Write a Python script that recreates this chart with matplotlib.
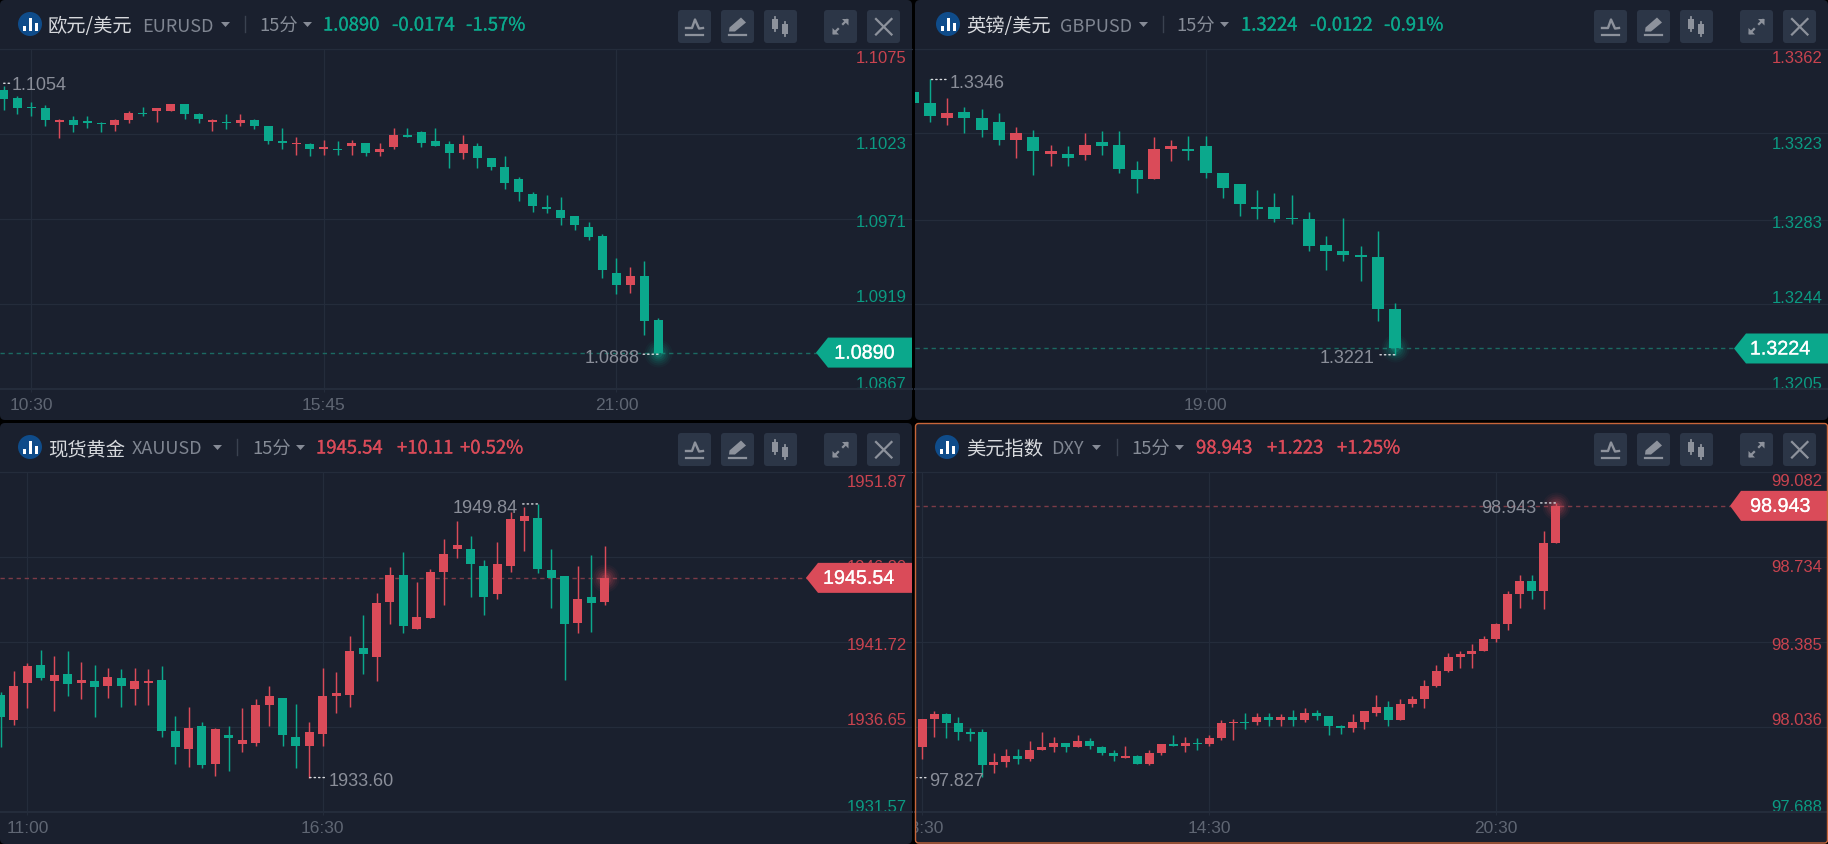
import matplotlib
matplotlib.use("Agg")
import matplotlib.pyplot as plt
import matplotlib.patheffects as pe
from matplotlib.patches import FancyBboxPatch, Polygon, Circle, Rectangle
from matplotlib.transforms import Bbox, TransformedBbox, IdentityTransform

# ---------- data (O/H/L/C) ----------
eur_open = [1.10501,1.10450,1.10397,1.10389,1.10303,1.10315,1.10307,1.10297,1.10285,1.10315,1.10358,1.10373,1.10371,1.10413,1.10352,1.10305,1.10305,1.10297,1.10315,1.10279,1.10187,1.10169,1.10169,1.10138,1.10138,1.10156,1.10175,1.10120,1.10150,1.10224,1.10242,1.10187,1.10169,1.10114,1.10156,1.10083,1.10028,1.09954,1.09863,1.09783,1.09765,1.09728,1.09661,1.09606,1.09379,1.09306,1.09361,1.09091]
eur_high = [1.10522,1.10462,1.10426,1.10407,1.10320,1.10340,1.10340,1.10301,1.10320,1.10371,1.10395,1.10389,1.10413,1.10413,1.10358,1.10322,1.10352,1.10352,1.10322,1.10279,1.10267,1.10211,1.10175,1.10193,1.10187,1.10193,1.10175,1.10175,1.10267,1.10267,1.10248,1.10267,1.10187,1.10224,1.10175,1.10083,1.10095,1.09967,1.09875,1.09856,1.09844,1.09728,1.09691,1.09618,1.09471,1.09416,1.09453,1.09104]
eur_low = [1.10377,1.10352,1.10340,1.10279,1.10205,1.10242,1.10267,1.10242,1.10248,1.10297,1.10340,1.10303,1.10371,1.10322,1.10297,1.10248,1.10260,1.10279,1.10260,1.10169,1.10138,1.10101,1.10095,1.10101,1.10101,1.10101,1.10095,1.10095,1.10138,1.10211,1.10150,1.10156,1.10022,1.10077,1.10022,1.10009,1.09893,1.09820,1.09752,1.09746,1.09673,1.09642,1.09581,1.09349,1.09251,1.09257,1.09000,1.08880]
eur_close = [1.10444,1.10389,1.10391,1.10315,1.10315,1.10285,1.10297,1.10289,1.10315,1.10358,1.10352,1.10389,1.10413,1.10352,1.10322,1.10315,1.10299,1.10315,1.10279,1.10187,1.10175,1.10175,1.10138,1.10150,1.10132,1.10175,1.10114,1.10138,1.10224,1.10211,1.10175,1.10156,1.10114,1.10169,1.10083,1.10028,1.09930,1.09875,1.09789,1.09771,1.09716,1.09673,1.09599,1.09397,1.09306,1.09361,1.09085,1.08890]
eur_ticks = [1.1075, 1.1023, 1.0971, 1.0919, 1.0867]
eur_tick_text = ["1.1075", "1.1023", "1.0971", "1.0919", "1.0867"]
eur_time_idx = [2, 23, 44]
eur_time_text = ["10:30", "15:45", "21:00"]

gbp_open = [1.33422,1.33370,1.33301,1.33329,1.33301,1.33282,1.33198,1.33212,1.33133,1.33133,1.33129,1.33189,1.33175,1.33059,1.33017,1.33157,1.33157,1.33170,1.33045,1.32994,1.32891,1.32891,1.32840,1.32836,1.32715,1.32687,1.32668,1.32659,1.32417]
gbp_high = [1.33440,1.33479,1.33394,1.33352,1.33343,1.33324,1.33259,1.33245,1.33175,1.33170,1.33231,1.33240,1.33240,1.33101,1.33212,1.33198,1.33217,1.33217,1.33045,1.32994,1.32966,1.32952,1.32947,1.32864,1.32757,1.32840,1.32710,1.32780,1.32445]
gbp_low = [1.33340,1.33282,1.33268,1.33231,1.33212,1.33175,1.33115,1.33036,1.33077,1.33077,1.33105,1.33129,1.33045,1.32952,1.33017,1.33101,1.33105,1.33022,1.32933,1.32850,1.32836,1.32822,1.32812,1.32687,1.32599,1.32640,1.32547,1.32361,1.32206]
gbp_close = [1.33370,1.33310,1.33324,1.33301,1.33245,1.33198,1.33231,1.33147,1.33147,1.33115,1.33175,1.33170,1.33064,1.33017,1.33157,1.33170,1.33149,1.33045,1.32975,1.32905,1.32882,1.32836,1.32836,1.32710,1.32687,1.32668,1.32659,1.32417,1.32235]
gbp_ticks = [1.3362, 1.3323, 1.3283, 1.3244, 1.3205]
gbp_tick_text = ["1.3362", "1.3323", "1.3283", "1.3244", "1.3205"]
gbp_time_idx = [17]
gbp_time_text = ["19:00"]

xau_open = [1938.55,1937.06,1939.27,1940.34,1939.39,1939.81,1939.27,1939.39,1939.09,1939.57,1938.91,1939.27,1939.45,1936.40,1935.33,1936.70,1934.43,1936.16,1935.63,1935.69,1937.96,1938.37,1936.05,1935.51,1936.22,1938.49,1938.55,1941.36,1940.82,1944.11,1945.73,1942.50,1943.16,1945.90,1947.28,1947.28,1946.26,1944.59,1946.26,1948.94,1949.12,1946.02,1945.66,1942.85,1944.41,1944.11]
xau_high = [1938.73,1939.99,1940.46,1941.24,1940.88,1941.18,1940.52,1940.34,1940.16,1940.10,1940.16,1940.10,1940.28,1937.30,1937.84,1936.94,1936.58,1936.70,1937.78,1938.31,1939.09,1938.37,1938.02,1936.94,1940.16,1939.93,1942.08,1943.33,1944.64,1946.20,1947.10,1945.31,1946.08,1947.87,1948.95,1948.05,1946.62,1947.70,1949.48,1949.78,1949.96,1947.27,1945.66,1946.26,1946.91,1947.45]
xau_low = [1935.45,1936.76,1937.78,1939.45,1937.60,1938.49,1938.31,1937.24,1938.37,1937.84,1937.96,1937.96,1936.05,1934.43,1934.25,1934.19,1933.72,1934.02,1935.15,1935.51,1936.70,1935.51,1934.19,1933.60,1935.51,1937.48,1937.84,1939.81,1939.39,1942.80,1942.26,1942.50,1943.16,1943.93,1946.74,1944.41,1943.34,1944.29,1945.90,1947.15,1945.84,1943.75,1939.45,1942.26,1942.32,1943.93]
xau_close = [1937.24,1939.09,1940.28,1939.57,1939.75,1939.21,1939.45,1939.03,1939.63,1939.09,1939.39,1939.39,1936.40,1935.45,1936.58,1934.37,1936.52,1935.99,1935.87,1937.96,1938.49,1936.16,1935.51,1936.34,1938.49,1938.67,1941.18,1941.00,1944.05,1945.73,1942.68,1943.22,1945.90,1946.98,1947.52,1946.38,1944.41,1946.38,1949.06,1949.24,1946.08,1945.54,1942.79,1944.29,1944.05,1945.54]
xau_ticks = [1951.87, 1946.80, 1941.72, 1936.65, 1931.57]
xau_tick_text = ["1951.87", "1946.80", "1941.72", "1936.65", "1931.57"]
xau_time_idx = [2, 24]
xau_time_text = ["11:00", "16:30"]

dxy_open = [97.953,98.068,98.088,98.051,98.014,98.014,97.879,97.891,97.916,97.904,97.941,97.953,97.969,97.953,97.978,97.953,97.928,97.908,97.916,97.883,97.928,97.965,97.957,97.969,97.965,97.990,98.051,98.056,98.056,98.076,98.064,98.076,98.064,98.092,98.080,98.039,98.031,98.056,98.092,98.117,98.064,98.130,98.150,98.204,98.265,98.323,98.335,98.347,98.397,98.458,98.581,98.635,98.594,98.791]
dxy_high = [98.068,98.101,98.092,98.076,98.031,98.027,97.928,97.945,97.945,97.978,98.014,97.994,97.969,98.002,97.990,97.957,97.941,97.957,97.920,97.941,97.965,98.002,97.994,97.990,98.002,98.064,98.068,98.092,98.092,98.092,98.088,98.105,98.113,98.105,98.080,98.043,98.088,98.101,98.166,98.142,98.150,98.163,98.228,98.290,98.339,98.347,98.376,98.409,98.462,98.594,98.659,98.659,98.840,98.955]
dxy_low = [97.904,97.994,97.990,97.982,97.978,97.830,97.846,97.871,97.883,97.895,97.941,97.932,97.932,97.953,97.945,97.920,97.895,97.908,97.883,97.879,97.920,97.957,97.932,97.941,97.957,97.982,97.982,98.027,98.043,98.039,98.039,98.039,98.056,98.064,98.002,98.006,98.014,98.027,98.080,98.039,98.064,98.118,98.113,98.200,98.261,98.278,98.278,98.347,98.384,98.434,98.524,98.561,98.520,98.791]
dxy_close = [98.068,98.088,98.051,98.014,98.006,97.879,97.891,97.916,97.904,97.941,97.953,97.969,97.953,97.978,97.957,97.928,97.916,97.916,97.883,97.928,97.965,97.957,97.969,97.965,97.990,98.051,98.056,98.051,98.076,98.064,98.076,98.064,98.092,98.080,98.039,98.031,98.056,98.101,98.117,98.064,98.130,98.150,98.204,98.265,98.323,98.335,98.347,98.397,98.458,98.581,98.635,98.594,98.791,98.943]
dxy_ticks = [99.082, 98.734, 98.385, 98.036, 97.688]
dxy_tick_text = ["99.082", "98.734", "98.385", "98.036", "97.688"]
dxy_time_idx = [0, 24, 48]
dxy_time_text = ["08:30", "14:30", "20:30"]

# ---------- style ----------
W, H = 1828, 845
BG, PANEL, GRID = "#000000", "#1a202e", "#242c3b"
UP, DOWN = "#da4b59", "#0ba88c"
UP_DIM, DOWN_DIM = "#c9434f", "#0b9a82"
BTN, ICON = "#2c3647", "#8d929c"
CJK = ["Noto Sans CJK SC", "DejaVu Sans"]
LAT = ["Liberation Sans", "DejaVu Sans"]
OFFS = [-9, -10, -3, 7, 5]

panels = [
    dict(box=(0, 1, 912, 421), plot=(50, 389.5), o=eur_open, h=eur_high, l=eur_low, c=eur_close,
         ticks=eur_ticks, tt=eur_tick_text, tcol=[UP_DIM] + [DOWN_DIM] * 4,
         ti=eur_time_idx, tx=eur_time_text, x0=3.5, dx=13.93, bw=9,
         name="欧元/美元", sym="EURUSD", price="1.0890", chg="-0.0174", pct="-1.57%", col=DOWN,
         xs=(48, 142, 221, 245, 259, 303, 323, 392, 466), icon=30, cy=25,
         flag=(816, 828), flagtxt="1.0890",
         hl=[(0, 1.1054, "1.1054", 6, 8, -1, "left"), (47, 1.0888, "1.0888", -15, -19, -3, "right")]),
    dict(box=(915, 1, 1828, 421), plot=(50, 389.5), o=gbp_open, h=gbp_high, l=gbp_low, c=gbp_close,
         ticks=gbp_ticks, tt=gbp_tick_text, tcol=[UP_DIM] + [DOWN_DIM] * 4,
         ti=gbp_time_idx, tx=gbp_time_text, x0=912.8, dx=17.22, bw=12,
         name="英镑/美元", sym="GBPUSD", price="1.3224", chg="-0.0122", pct="-0.91%", col=DOWN,
         xs=(966, 1060, 1139, 1163, 1176, 1220, 1241, 1310, 1384), icon=948, cy=25,
         flag=(1734, 1746), flagtxt="1.3224",
         hl=[(1, 1.33479, "1.3346", 16, 20, -3, "left"), (28, 1.32206, "1.3221", -15, -20, -3, "right")]),
    dict(box=(0, 424, 912, 845), plot=(473, 812.5), o=xau_open, h=xau_high, l=xau_low, c=xau_close,
         ticks=xau_ticks, tt=xau_tick_text, tcol=[UP_DIM] * 4 + [DOWN_DIM],
         ti=xau_time_idx, tx=xau_time_text, x0=0.5, dx=13.43, bw=9,
         name="现货黄金", sym="XAUUSD", price="1945.54", chg="+10.11", pct="+0.52%", col=UP,
         xs=(48, 132, 213, 237, 252, 296, 316, 397, 460), icon=30, cy=448,
         flag=(806, 818), flagtxt="1945.54",
         hl=[(23, 1933.60, "1933.60", 15, 19, -3, "left"), (40, 1949.96, "1949.84", -15, -20, -4, "right")]),
    dict(box=(915, 424, 1828, 845), plot=(473, 812.5), o=dxy_open, h=dxy_high, l=dxy_low, c=dxy_close,
         ticks=dxy_ticks, tt=dxy_tick_text, tcol=[UP_DIM] * 4 + [DOWN_DIM],
         ti=dxy_time_idx, tx=dxy_time_text, x0=922.3, dx=11.95, bw=9,
         name="美元指数", sym="DXY", price="98.943", chg="+1.223", pct="+1.25%", col=UP,
         xs=(966, 1051, 1092, 1117, 1131, 1175, 1196, 1267, 1337), icon=947, cy=448,
         flag=(1730, 1741), flagtxt="98.943",
         hl=[(-0.45, 97.827, "97.827", 9, 12, -3, "left"), (53, 98.955, "98.943", -15, -19, -5, "right")]),
]

fig = plt.figure(figsize=(W / 100, H / 100), dpi=100, facecolor=BG)


def px_axes(z):
    a = fig.add_axes([0, 0, 1, 1], zorder=z)
    a.set_xlim(0, W)
    a.set_ylim(H, 0)
    a.axis("off")
    a.patch.set_alpha(0)
    return a


back = px_axes(0)
front = px_axes(10)

for p in panels:
    x0, y0, x1, y1 = p["box"]
    back.add_patch(FancyBboxPatch((x0, y0), x1 - x0, y1 - y0, boxstyle="round,pad=0,rounding_size=5",
                                  fc=PANEL, ec="none"))

    # price chart on real axes
    top, bot = p["plot"]
    ax = fig.add_axes([x0 / W, 1 - bot / H, (x1 - x0) / W, (bot - top) / H], zorder=5)
    ax.patch.set_alpha(0)
    ax.set_xlim((x0 - p["x0"]) / p["dx"], (x1 - p["x0"]) / p["dx"])
    ax.set_ylim(p["ticks"][-1], p["ticks"][0])
    ax.set_yticks(p["ticks"])
    ax.set_yticklabels([])
    ax.set_xticks(p["ti"])
    ax.set_xticklabels(p["tx"], fontsize=12.5, color="#5f6673", family=LAT)
    ax.tick_params(axis="y", length=0)
    ax.tick_params(axis="x", length=2.5, width=0.8, color=GRID, pad=3.5)
    ax.grid(True, color=GRID, lw=0.85)
    ax.set_axisbelow(True)
    for s in ("left", "right"):
        ax.spines[s].set_visible(False)
    ax.spines["top"].set_color(GRID)
    ax.spines["top"].set_linewidth(0.85)
    ax.spines["bottom"].set_color(GRID)
    ax.spines["bottom"].set_linewidth(1.5)
    clip = TransformedBbox(Bbox([[x0, 0], [x1, H]]), IdentityTransform())
    for lab in ax.get_xticklabels():
        lab.set_clip_box(clip)
        lab.set_clip_on(True)

    n = len(p["o"])
    idx = list(range(n))
    colors = [UP if p["c"][i] >= p["o"][i] else DOWN for i in idx]
    ax.vlines(idx, p["l"], p["h"], colors=colors, lw=1.05, zorder=3)
    ax.bar(idx, [abs(p["c"][i] - p["o"][i]) for i in idx],
           bottom=[min(p["c"][i], p["o"][i]) for i in idx],
           width=p["bw"] / p["dx"], color=colors, linewidth=0, zorder=4)

    last = p["c"][-1]
    col = p["col"]
    dash = "#1b6a62" if col == DOWN else "#7c3b47"
    ax.axhline(last, color=dash, lw=1.0, ls=(0, (3.1, 2.7)), zorder=2)
    for r, al in zip((14, 12, 10, 8, 6, 4), (0.05, 0.07, 0.09, 0.12, 0.16, 0.25)):
        ax.scatter([n - 1], [last], s=(2 * r * 0.72) ** 2, color=col, alpha=al, linewidths=0, zorder=6)

    # axis labels inside the plot
    yaxt = ax.get_yaxis_transform()
    for tick, txt, tc, dy in zip(p["ticks"], p["tt"], p["tcol"], OFFS):
        ax.annotate(txt, xy=(1, tick), xycoords=yaxt, xytext=(-5.5, dy), textcoords="offset pixels",
                    ha="right", va="center", fontsize=12, color=tc, family=LAT, annotation_clip=False, zorder=1)

    # high / low markers
    for i, val, txt, dots, tdx, tdy, ha in p["hl"]:
        ax.annotate("", xy=(i, val), xytext=(dots, 0), textcoords="offset pixels",
                    arrowprops=dict(arrowstyle="-", ls=(0, (1, 2.2)), color="#d8dade", lw=1.0, shrinkA=0, shrinkB=0),
                    zorder=7)
        ax.annotate(txt, xy=(i, val), xytext=(tdx, tdy), textcoords="offset pixels",
                    ha=ha, va="center", fontsize=13, color="#8a8e99", family=LAT, zorder=7)

    # price flag follows the last close through the axes scale
    fy = (top + (p["ticks"][0] - last) / (p["ticks"][0] - p["ticks"][-1]) * (bot - top))
    tip, rx = p["flag"]
    front.add_patch(Polygon([(tip, fy), (rx, fy - 15), (x1, fy - 15), (x1, fy + 15), (rx, fy + 15)],
                            closed=True, fc=col, ec="none"))
    front.text(x1 - 17.5, fy + 0.5, p["flagtxt"], color="white", fontsize=14.2, ha="right", va="center",
               family=LAT, path_effects=[pe.withStroke(linewidth=0.2, foreground="white")])

    # header
    cy = p["cy"]
    ty = cy + 1.5
    xs = p["xs"]
    front.add_patch(Circle((p["icon"], cy), 12, fc="#0f4c8a", ec="none"))
    for bx, bt in zip((-6, 0, 6), (1.5, -6.5, -1.5)):
        front.add_patch(Rectangle((p["icon"] + bx - 1.5, cy + bt), 3, 6.5 - bt, fc="white", ec="none"))
    front.text(xs[0], ty, p["name"], color="#d7d9dd", fontsize=13.9, va="center", ha="left", family=CJK)
    front.text(xs[1], ty, p["sym"], color="#7f8591", fontsize=13, va="center", ha="left", family=CJK)
    front.add_patch(Polygon([(xs[2], cy - 2), (xs[2] + 9, cy - 2), (xs[2] + 4.5, cy + 3)], fc="#868b96", ec="none"))
    front.plot([xs[3], xs[3]], [cy - 8, cy + 8], color="#3a4250", lw=1.0)
    front.text(xs[4], ty, "15分", color="#868c97", fontsize=13.2, va="center", ha="left", family=CJK)
    front.add_patch(Polygon([(xs[5], cy - 2), (xs[5] + 9, cy - 2), (xs[5] + 4.5, cy + 3)], fc="#868b96", ec="none"))
    for k, key in zip((6, 7, 8), ("price", "chg", "pct")):
        front.text(xs[k], ty, p[key], color=col, fontsize=13.3, va="center", ha="left", family=CJK,
                   path_effects=[pe.withStroke(linewidth=0.2, foreground=col)])

    # toolbar buttons
    by = y0 + 10
    bxs = [x1 - 234, x1 - 191, x1 - 148, x1 - 88, x1 - 45]
    for b in bxs:
        front.add_patch(FancyBboxPatch((b, by), 33, 33, boxstyle="round,pad=0,rounding_size=3", fc=BTN, ec="none"))
    b = bxs[0]
    front.plot([b + 8, b + 25], [by + 24.5, by + 24.5], color=ICON, lw=1.6)
    front.plot([b + 8, b + 14, b + 17, b + 21, b + 25], [by + 18, by + 18, by + 9.5, by + 18.5, by + 18], color=ICON, lw=1.7)
    b = bxs[1]
    front.plot([b + 8, b + 25], [by + 24.7, by + 24.7], color=ICON, lw=1.6)
    front.add_patch(Polygon([(b + 8, by + 21.5), (b + 8.5, by + 17.5), (b + 20, by + 7.5), (b + 25, by + 12.5), (b + 14, by + 21.5)], fc=ICON, ec="none"))
    b = bxs[2]
    for cxx, t0, t1, w0, w1 in ((10.7, 9, 19, 7, 21), (20.7, 14, 24, 12, 26)):
        front.plot([b + cxx, b + cxx], [by + w0, by + w1], color=ICON, lw=1.3)
        front.add_patch(Rectangle((b + cxx - 3.2, by + t0), 6.4, t1 - t0, fc=ICON, ec="none"))
    b = bxs[3]
    front.plot([b + 10, b + 14], [by + 23, by + 19], color=ICON, lw=1.6)
    front.plot([b + 19, b + 23], [by + 14, by + 10], color=ICON, lw=1.6)
    front.add_patch(Polygon([(b + 24.5, by + 9), (b + 24.5, by + 15.5), (b + 18, by + 9)], fc=ICON, ec="none"))
    front.add_patch(Polygon([(b + 8.5, by + 24.5), (b + 8.5, by + 18), (b + 15, by + 24.5)], fc=ICON, ec="none"))
    b = bxs[4]
    front.plot([b + 9, b + 24.5], [by + 9, by + 24.5], color=ICON, lw=1.6)
    front.plot([b + 9, b + 24.5], [by + 24.5, by + 9], color=ICON, lw=1.6)

# active panel outline
front.add_patch(FancyBboxPatch((915.5, 424.5), 912, 419.5, boxstyle="round,pad=0,rounding_size=3",
                               fc="none", ec="#c8663a", lw=1.0))

fig.savefig("out.png", dpi=100, facecolor=BG)
